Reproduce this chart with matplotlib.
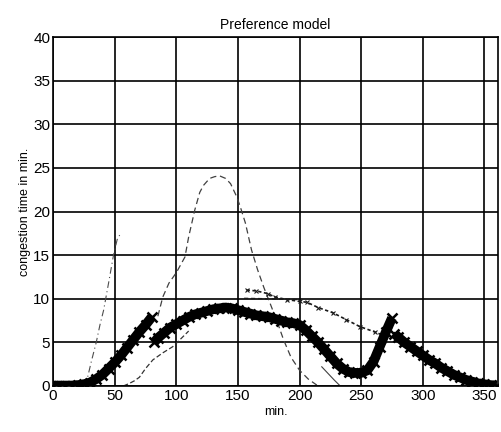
import matplotlib
matplotlib.use("Agg")
import matplotlib.pyplot as plt

plt.rcParams['font.family'] = ['Liberation Sans', 'DejaVu Sans']

# thick x-marker series (three segments)
a_x = [0, 5, 10, 15, 20, 25, 30, 35, 40, 45, 50, 55, 60, 65, 70, 75, 80]
a_y = [0.05, 0.05, 0.05, 0.05, 0.1, 0.2, 0.4, 0.8, 1.3, 2.0, 2.7, 3.5, 4.4, 5.3, 6.2, 7.0, 7.9]
b_x = [82, 85, 90, 95, 100, 105, 110, 115, 120, 125, 130, 135, 140, 145, 150, 155, 160, 165,
       170, 175, 180, 185, 190, 195, 200, 205, 210, 215, 220, 225, 230, 235, 240, 245, 250,
       255, 260, 265, 270, 275]
b_y = [5.0, 5.5, 6.1, 6.7, 7.1, 7.5, 7.9, 8.2, 8.4, 8.6, 8.8, 8.9, 9.0, 8.9, 8.7, 8.5, 8.3, 8.1,
       8.0, 7.9, 7.7, 7.5, 7.3, 7.2, 7.0, 6.4, 5.7, 5.0, 4.2, 3.4, 2.6, 2.0, 1.6, 1.5, 1.5,
       1.8, 2.8, 4.5, 6.2, 7.8]
c_x = [277, 280, 285, 290, 295, 300, 305, 310, 315, 320, 325, 330, 335, 340, 345, 350, 355, 360]
c_y = [6.0, 5.6, 5.0, 4.5, 4.0, 3.5, 3.0, 2.6, 2.1, 1.7, 1.3, 1.0, 0.7, 0.5, 0.3, 0.2, 0.1, 0.05]

# thin lines
l1_x = [25, 28, 31, 35, 38, 41, 45, 49, 52, 54]
l1_y = [0, 1, 2.8, 5, 7, 8.7, 11.8, 15, 16.8, 17.3]
l2_x = [85, 89, 94, 100, 107, 110, 115, 119, 122, 127, 131, 135, 140, 144, 149, 152, 156, 161,
        166, 171, 176, 182, 187, 193, 200, 207, 214]
l2_y = [8, 10.2, 11.8, 13, 14.8, 17.1, 20.2, 22.2, 23, 23.8, 24, 24.1, 23.8, 23.2, 21.7, 20.5,
        18.7, 15.6, 13.3, 11.3, 9.5, 7.3, 5.3, 3.3, 1.8, 0.8, 0.1]
l3_x = [57, 62, 66, 70, 75, 81, 89, 97, 100, 105, 110]
l3_y = [0, 0.3, 0.6, 1.0, 2.0, 3.0, 3.8, 4.5, 4.9, 5.6, 6.3]
l4_x = [218, 222, 228, 233]
l4_y = [2.2, 1.6, 0.7, 0]
l5_x = [157, 165, 174, 180, 190, 200, 206, 215, 227, 238, 249, 261, 268]
l5_y = [11, 10.9, 10.6, 10.2, 9.9, 9.7, 9.6, 9.0, 8.4, 7.6, 6.8, 6.2, 5.8]
l6_x = [155, 175, 200]
l6_y = [10.05, 10.0, 9.9]

fig = plt.figure(figsize=(5.01, 4.32), dpi=100)
ax = fig.add_axes([0.106, 0.1065, 0.888, 0.8075])

# thin lines
ax.plot(l1_x, l1_y, color='0.3', lw=0.8, ls=(0, (6, 3, 1, 3)))
ax.plot(l2_x, l2_y, color='0.25', lw=0.9, ls=(0, (5, 3)))
ax.plot(l3_x, l3_y, color='0.2', lw=0.9, ls=(0, (4, 2)))
ax.plot(l4_x, l4_y, color='0.25', lw=0.8)
ax.plot(l5_x, l5_y, color='0.1', lw=1.2, ls=(0, (2, 1.5)), marker='x', ms=3, mew=0.8)
ax.plot(l6_x, l6_y, color='0.1', lw=1.0, ls=(0, (3, 2)))

# thick x-marker band
for xs, ys in ((a_x, a_y), (b_x, b_y), (c_x, c_y)):
    ax.plot(xs, ys, color='black', lw=7, marker='x', ms=7, mew=1.8, solid_capstyle='butt')

ax.set_xlim(0, 361)
ax.set_ylim(0, 40)
ax.set_xticks([0, 50, 100, 150, 200, 250, 300, 350])
ax.set_yticks([0, 5, 10, 15, 20, 25, 30, 35, 40])
ax.grid(True, color='black', lw=1.2, ls='-')
ax.set_axisbelow(True)
for s in ax.spines.values():
    s.set_linewidth(1.2)
ax.tick_params(length=0, labelsize=11, pad=2)
ax.set_title('Preference model', fontsize=10, pad=6)
ax.set_xlabel('min.', fontsize=9, labelpad=2)
ax.set_ylabel('congestion time in min.', fontsize=9, labelpad=2)

fig.savefig('out.png', dpi=100)
